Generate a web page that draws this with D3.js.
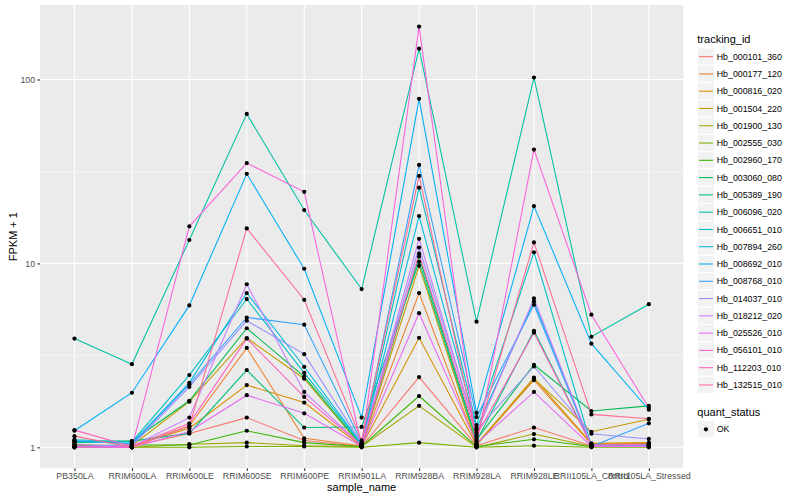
<!DOCTYPE html>
<html>
<head>
<meta charset="utf-8">
<script src="https://d3js.org/d3.v7.min.js"></script>
<style>
  body { margin: 0; background: #fff; }
  text { font-family: "Liberation Sans", Arial, sans-serif; }
</style>
</head>
<body>
<div id="vis"></div>
<script>
// x categories
var samples = ['PB350LA', 'RRIM600LA', 'RRIM600LE', 'RRIM600SE', 'RRIM600PE', 'RRIM901LA',
  'RRIM928BA', 'RRIM928LA', 'RRIM928LE', 'RRII105LA_Control', 'RRII105LA_Stressed'];

var trackingIds = ['Hb_000101_360', 'Hb_000177_120', 'Hb_000816_020', 'Hb_001504_220', 'Hb_001900_130',
  'Hb_002555_030', 'Hb_002960_170', 'Hb_003060_080', 'Hb_005389_190', 'Hb_006096_020',
  'Hb_006651_010', 'Hb_007894_260', 'Hb_008692_010', 'Hb_008768_010', 'Hb_014037_010',
  'Hb_018212_020', 'Hb_025526_010', 'Hb_056101_010', 'Hb_112203_010', 'Hb_132515_010'];

// FPKM + 1 per sample
var hb_000101_360 = [1.04, 1.01, 1.19, 1.45, 1.09, 1.01, 2.41, 1.02, 1.28, 1.02, 1.03];
var hb_000177_120 = [1.02, 1.01, 1.31, 3.47, 1.12, 1.02, 6.9, 1.03, 2.32, 1.04, 1.05];
var hb_000816_020 = [1.01, 1.02, 1.27, 2.18, 1.75, 1.01, 3.94, 1.03, 2.39, 1.05, 1.06];
var hb_001504_220 = [1.01, 1.02, 1.77, 3.93, 2.36, 1.01, 9.7, 1.04, 2.36, 1.215, 1.42];
var hb_001900_130 = [1.0, 1.0, 1.04, 1.06, 1.02, 1.01, 1.68, 1.0, 1.18, 1.01, 1.01];
var hb_002555_030 = [1.0, 1.0, 1.0, 1.01, 1.01, 1.0, 1.06, 1.0, 1.02, 1.0, 1.0];
var hb_002960_170 = [1.02, 1.03, 1.03, 1.23, 1.06, 1.01, 1.9, 1.01, 1.105, 1.01, 1.02];
var hb_003060_080 = [1.07, 1.08, 1.79, 4.44, 2.42, 1.02, 10.9, 1.1, 2.81, 1.575, 1.68];
var hb_005389_190 = [1.06, 1.08, 1.19, 2.63, 1.28, 1.29, 10.2, 1.08, 4.3, 1.03, 1.04];
var hb_006096_020 = [3.9, 2.83, 13.4, 65, 19.5, 7.25, 147, 4.82, 102.5, 3.99, 6.0];
var hb_006651_010 = [1.1, 1.07, 2.47, 6.4, 2.54, 1.04, 25.8, 1.32, 11.5, 1.02, 1.02];
var hb_007894_260 = [1.08, 1.05, 2.24, 6.9, 2.74, 1.04, 18.1, 1.27, 6.2, 1.02, 1.03];
var hb_008692_010 = [1.23, 1.98, 5.91, 30.7, 9.35, 1.45, 78.5, 1.54, 20.5, 3.66, 1.6];
var hb_008768_010 = [1.09, 1.04, 2.2, 5.08, 4.64, 1.06, 34.3, 1.46, 5.95, 1.01, 1.35];
var hb_014037_010 = [1.03, 1.02, 2.13, 4.88, 3.21, 1.05, 12.2, 1.24, 2.75, 1.185, 1.11];
var hb_018212_020 = [1.01, 1.01, 1.45, 7.7, 2.0, 1.02, 13.6, 1.2, 6.45, 1.02, 1.02];
var hb_025526_010 = [1.0, 1.0, 1.22, 1.92, 1.53, 1.01, 5.36, 1.05, 2.0, 1.01, 1.01];
var hb_056101_010 = [1.01, 1.0, 15.9, 35.1, 24.5, 1.02, 194, 1.03, 41.6, 5.26, 1.64];
var hb_112203_010 = [1.24, 1.01, 1.35, 3.9, 1.88, 1.02, 11.3, 1.16, 4.2, 1.03, 1.04];
var hb_132515_010 = [1.15, 1.0, 1.3, 15.5, 6.34, 1.09, 29.9, 1.13, 13.0, 1.51, 1.43];

var yTicks = [1, 10, 100];
var yMinor = [Math.sqrt(10), Math.sqrt(1000)];

var seriesValues = [hb_000101_360, hb_000177_120, hb_000816_020, hb_001504_220, hb_001900_130,
  hb_002555_030, hb_002960_170, hb_003060_080, hb_005389_190, hb_006096_020,
  hb_006651_010, hb_007894_260, hb_008692_010, hb_008768_010, hb_014037_010,
  hb_018212_020, hb_025526_010, hb_056101_010, hb_112203_010, hb_132515_010];

// ggplot hue palette for 20 levels
var palette = ['#F8766D', '#EA8331', '#D89000', '#C09B00', '#A3A500', '#7CAE00', '#39B600', '#00BB4E',
  '#00BF7D', '#00C1A3', '#00BFC4', '#00BAE0', '#00B0F6', '#35A2FF', '#9590FF', '#C77CFF',
  '#E76BF3', '#FA62DB', '#FF62BC', '#FF6C91'];

var series = trackingIds.map(function (id, i) {
  return { id: id, values: seriesValues[i].map(function (v, j) { return { s: samples[j], v: v }; }) };
});

var W = 800, H = 500;
var panel = { left: 40, right: 683.3, top: 5, bottom: 468.3 };

var svg = d3.select('#vis').append('svg')
  .attr('width', W).attr('height', H);

var x = d3.scalePoint()
  .domain(samples)
  .range([panel.left, panel.right])
  .padding(0.6);

var y = d3.scaleLog()
  .domain([Math.pow(10, -0.1142), Math.pow(10, 2.405)])
  .range([panel.bottom, panel.top]);

var color = d3.scaleOrdinal().domain(trackingIds).range(palette);

// panel background + grid
svg.append('rect')
  .attr('x', panel.left).attr('y', panel.top)
  .attr('width', panel.right - panel.left).attr('height', panel.bottom - panel.top)
  .attr('fill', '#EBEBEB');

var grid = svg.append('g');
grid.selectAll('.minor').data(yMinor).enter().append('line')
  .attr('x1', panel.left).attr('x2', panel.right)
  .attr('y1', function (d) { return y(d); }).attr('y2', function (d) { return y(d); })
  .attr('stroke', '#fff').attr('stroke-width', 0.53);
grid.selectAll('.major').data(yTicks).enter().append('line')
  .attr('x1', panel.left).attr('x2', panel.right)
  .attr('y1', function (d) { return y(d); }).attr('y2', function (d) { return y(d); })
  .attr('stroke', '#fff').attr('stroke-width', 1.07);
grid.selectAll('.xmajor').data(samples).enter().append('line')
  .attr('y1', panel.top).attr('y2', panel.bottom)
  .attr('x1', function (d) { return x(d); }).attr('x2', function (d) { return x(d); })
  .attr('stroke', '#fff').attr('stroke-width', 1.07);

// lines
var line = d3.line()
  .x(function (d) { return x(d.s); })
  .y(function (d) { return y(d.v); });

svg.append('g').selectAll('path')
  .data(series).enter().append('path')
  .attr('d', function (d) { return line(d.values); })
  .attr('fill', 'none')
  .attr('stroke', function (d) { return color(d.id); })
  .attr('stroke-width', 1.07);

// points
var allPts = [];
series.forEach(function (s) { s.values.forEach(function (p) { allPts.push(p); }); });
svg.append('g').selectAll('circle')
  .data(allPts).enter().append('circle')
  .attr('cx', function (d) { return x(d.s); })
  .attr('cy', function (d) { return y(d.v); })
  .attr('r', 2.1)
  .attr('fill', '#000');

// axes
var yAxis = svg.append('g')
  .attr('transform', 'translate(' + panel.left + ',0)')
  .call(d3.axisLeft(y).tickValues(yTicks).tickFormat(d3.format('d')).tickSize(2.75).tickPadding(2.2));
var xAxis = svg.append('g')
  .attr('transform', 'translate(0,' + panel.bottom + ')')
  .call(d3.axisBottom(x).tickSize(2.75).tickPadding(2.2));

[yAxis, xAxis].forEach(function (a) {
  a.select('.domain').remove();
  a.selectAll('line').attr('stroke', '#333333').attr('stroke-width', 1.07);
  a.selectAll('text').attr('fill', '#4D4D4D').style('font-size', '8.8px')
    .style('font-family', '"Liberation Sans", Arial, sans-serif');
});

// axis titles
svg.append('text')
  .attr('x', (panel.left + panel.right) / 2).attr('y', 491)
  .attr('text-anchor', 'middle').style('font-size', '11px')
  .text('sample_name');
svg.append('text')
  .attr('transform', 'translate(16.5,' + ((panel.top + panel.bottom) / 2) + ')rotate(-90)')
  .attr('text-anchor', 'middle').style('font-size', '11px')
  .text('FPKM + 1');

// legend: tracking_id
var keySize = 17.28, legX = 697.3, legTop = 48;
var leg = svg.append('g');
leg.append('text').attr('x', legX).attr('y', 42.5).style('font-size', '11px').text('tracking_id');
var items = leg.selectAll('.item').data(trackingIds).enter().append('g')
  .attr('transform', function (d, i) { return 'translate(' + legX + ',' + (legTop + i * keySize) + ')'; });
items.append('rect')
  .attr('width', keySize).attr('height', keySize)
  .attr('fill', '#F2F2F2').attr('stroke', '#fff').attr('stroke-width', 1.07);
items.append('line')
  .attr('x1', 1.7).attr('x2', keySize - 1.7)
  .attr('y1', keySize / 2).attr('y2', keySize / 2)
  .attr('stroke', function (d) { return color(d); }).attr('stroke-width', 1.07);
items.append('text')
  .attr('x', keySize + 2.2).attr('y', keySize / 2 + 3.1)
  .style('font-size', '8.8px').attr('fill', '#000')
  .text(function (d) { return d; });

// legend: quant_status
var q = svg.append('g');
q.append('text').attr('x', legX).attr('y', 416).style('font-size', '11px').text('quant_status');
var qi = q.append('g').attr('transform', 'translate(' + legX + ',' + 420.7 + ')');
qi.append('rect').attr('width', keySize).attr('height', keySize)
  .attr('fill', '#F2F2F2').attr('stroke', '#fff').attr('stroke-width', 1.07);
qi.append('circle').attr('cx', keySize / 2).attr('cy', keySize / 2).attr('r', 2.1).attr('fill', '#000');
qi.append('text').attr('x', keySize + 2.2).attr('y', keySize / 2 + 3.1)
  .style('font-size', '8.8px').text('OK');
</script>
</body>
</html>
